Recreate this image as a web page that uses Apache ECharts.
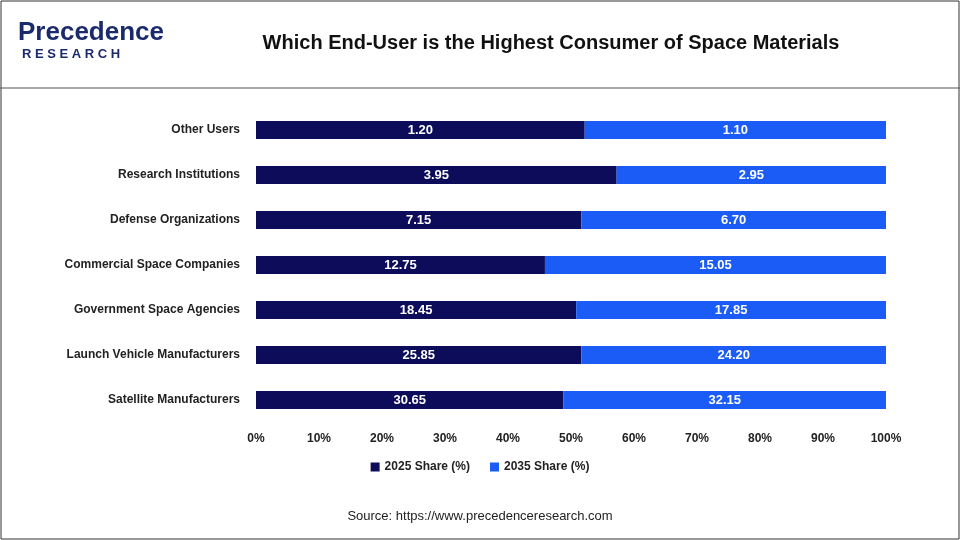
<!DOCTYPE html>
<html><head><meta charset="utf-8">
<script src="https://cdn.jsdelivr.net/npm/echarts@6/dist/echarts.min.js"></script>
<style>html,body{margin:0;padding:0;background:#fff}#c{width:960px;height:540px}</style>
</head><body><div id="c"></div>
<script>
const categories = ["Satellite Manufacturers","Launch Vehicle Manufacturers","Government Space Agencies","Commercial Space Companies","Defense Organizations","Research Institutions","Other Users"];
const share2025 = [30.65,25.85,18.45,12.75,7.15,3.95,1.20];
const share2035 = [32.15,24.20,17.85,15.05,6.70,2.95,1.10];
const tot = share2025.map((v,i)=>v+share2035[i]);
const p1 = share2025.map((v,i)=>({value:v/tot[i]*100,raw:v}));
const p2 = share2035.map((v,i)=>({value:v/tot[i]*100,raw:v}));
const chart = echarts.init(document.getElementById('c'));
const lbl = {show:true,color:'#fff',fontWeight:'bold',fontSize:13,fontFamily:'Arial',formatter:p=>p.data.raw.toFixed(2)};
chart.setOption({
  animation:false,
  title:{text:'Which End-User is the Highest Consumer of Space Materials',left:546,top:28,textAlign:'center',textStyle:{fontSize:20,fontWeight:'bold',color:'#111',fontFamily:'Arial'}},
  graphic:[
    {type:'rect',shape:{x:1,y:1,width:958,height:538},style:{fill:'none',stroke:'#333',lineWidth:1}},
    {type:'line',shape:{x1:0,y1:88,x2:960,y2:88},style:{stroke:'#555',lineWidth:1}},
    {type:'text',left:18,top:20,style:{text:'Precedence',fontSize:26,fontWeight:'bold',fill:'#1b2a6b',fontFamily:'Arial'}},
    {type:'text',left:22,top:48,style:{text:'R E S E A R C H',fontSize:13,fontWeight:'bold',fill:'#1b2a6b',fontFamily:'Arial'}},
    {type:'text',left:'center',top:510,style:{text:'Source: https://www.precedenceresearch.com',fontSize:13,fill:'#222',fontFamily:'Arial'}}
  ],
  legend:{bottom:62,left:'center',itemWidth:9,itemHeight:9,icon:'rect',itemGap:20,textStyle:{fontSize:12,fontWeight:'bold',color:'#222',fontFamily:'Arial'}},
  grid:{left:256,right:74,top:107.5,bottom:117.5},
  xAxis:{type:'value',min:0,max:100,interval:10,axisLabel:{formatter:'{value}%',fontWeight:'bold',color:'#222',fontSize:12,fontFamily:'Arial',margin:10},splitLine:{show:false},axisLine:{show:false},axisTick:{show:false}},
  yAxis:{type:'category',data:categories,axisLabel:{fontWeight:'bold',color:'#222',fontSize:12,fontFamily:'Arial',margin:16},axisLine:{show:false},axisTick:{show:false}},
  series:[
    {name:'2025 Share (%)',type:'bar',stack:'a',data:p1,barWidth:18,itemStyle:{color:'#0c0c5a'},label:lbl},
    {name:'2035 Share (%)',type:'bar',stack:'a',data:p2,barWidth:18,itemStyle:{color:'#1a5cf5'},label:lbl}
  ]
});
</script></body></html>
